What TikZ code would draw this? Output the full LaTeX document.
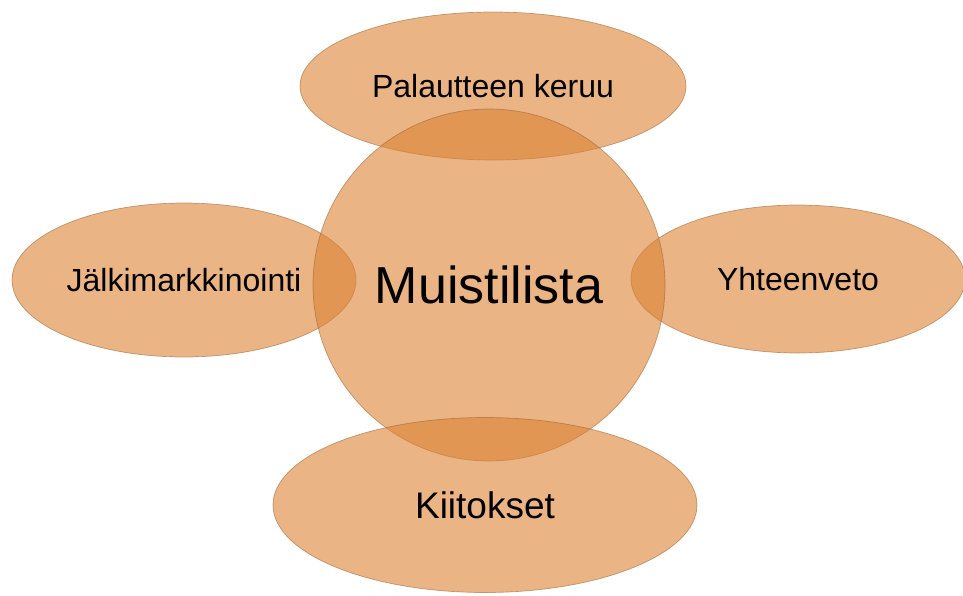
\documentclass[tikz,border=0pt]{standalone}
\usepackage{fontspec}
\setmainfont{Liberation Sans}
\usetikzlibrary{shapes.geometric}
\definecolor{petal}{RGB}{220,130,50}
\definecolor{rim}{RGB}{150,95,50}
\tikzset{
  blob/.style={ellipse, inner sep=0pt, fill=petal, fill opacity=0.6,
    draw=rim, draw opacity=0.55, line width=0.7pt, text opacity=1, text=black},
  small/.style={font=\fontsize{32}{38}\selectfont},
  big/.style={font=\fontsize{52}{60}\selectfont}
}
\begin{document}
\begin{tikzpicture}[x=1pt,y=-1pt]
\useasboundingbox (0,0) rectangle (963,595);
\node[blob, small, minimum width=386pt, minimum height=148pt] (top) at (493,86) {Palautteen keruu};
\node[blob, small, minimum width=344pt, minimum height=154pt] (left) at (184,280) {Jälkimarkkinointi};
\node[blob, small, minimum width=334pt, minimum height=148pt] (right) at (798,279) {Yhteenveto};
\node[blob, big, circle, minimum size=352pt] (mid) at (489,285) {Muistilista};
\node[blob, font=\fontsize{37}{42}\selectfont, minimum width=424pt, minimum height=175pt] (bot) at (485,505) {Kiitokset};
\end{tikzpicture}
\end{document}
